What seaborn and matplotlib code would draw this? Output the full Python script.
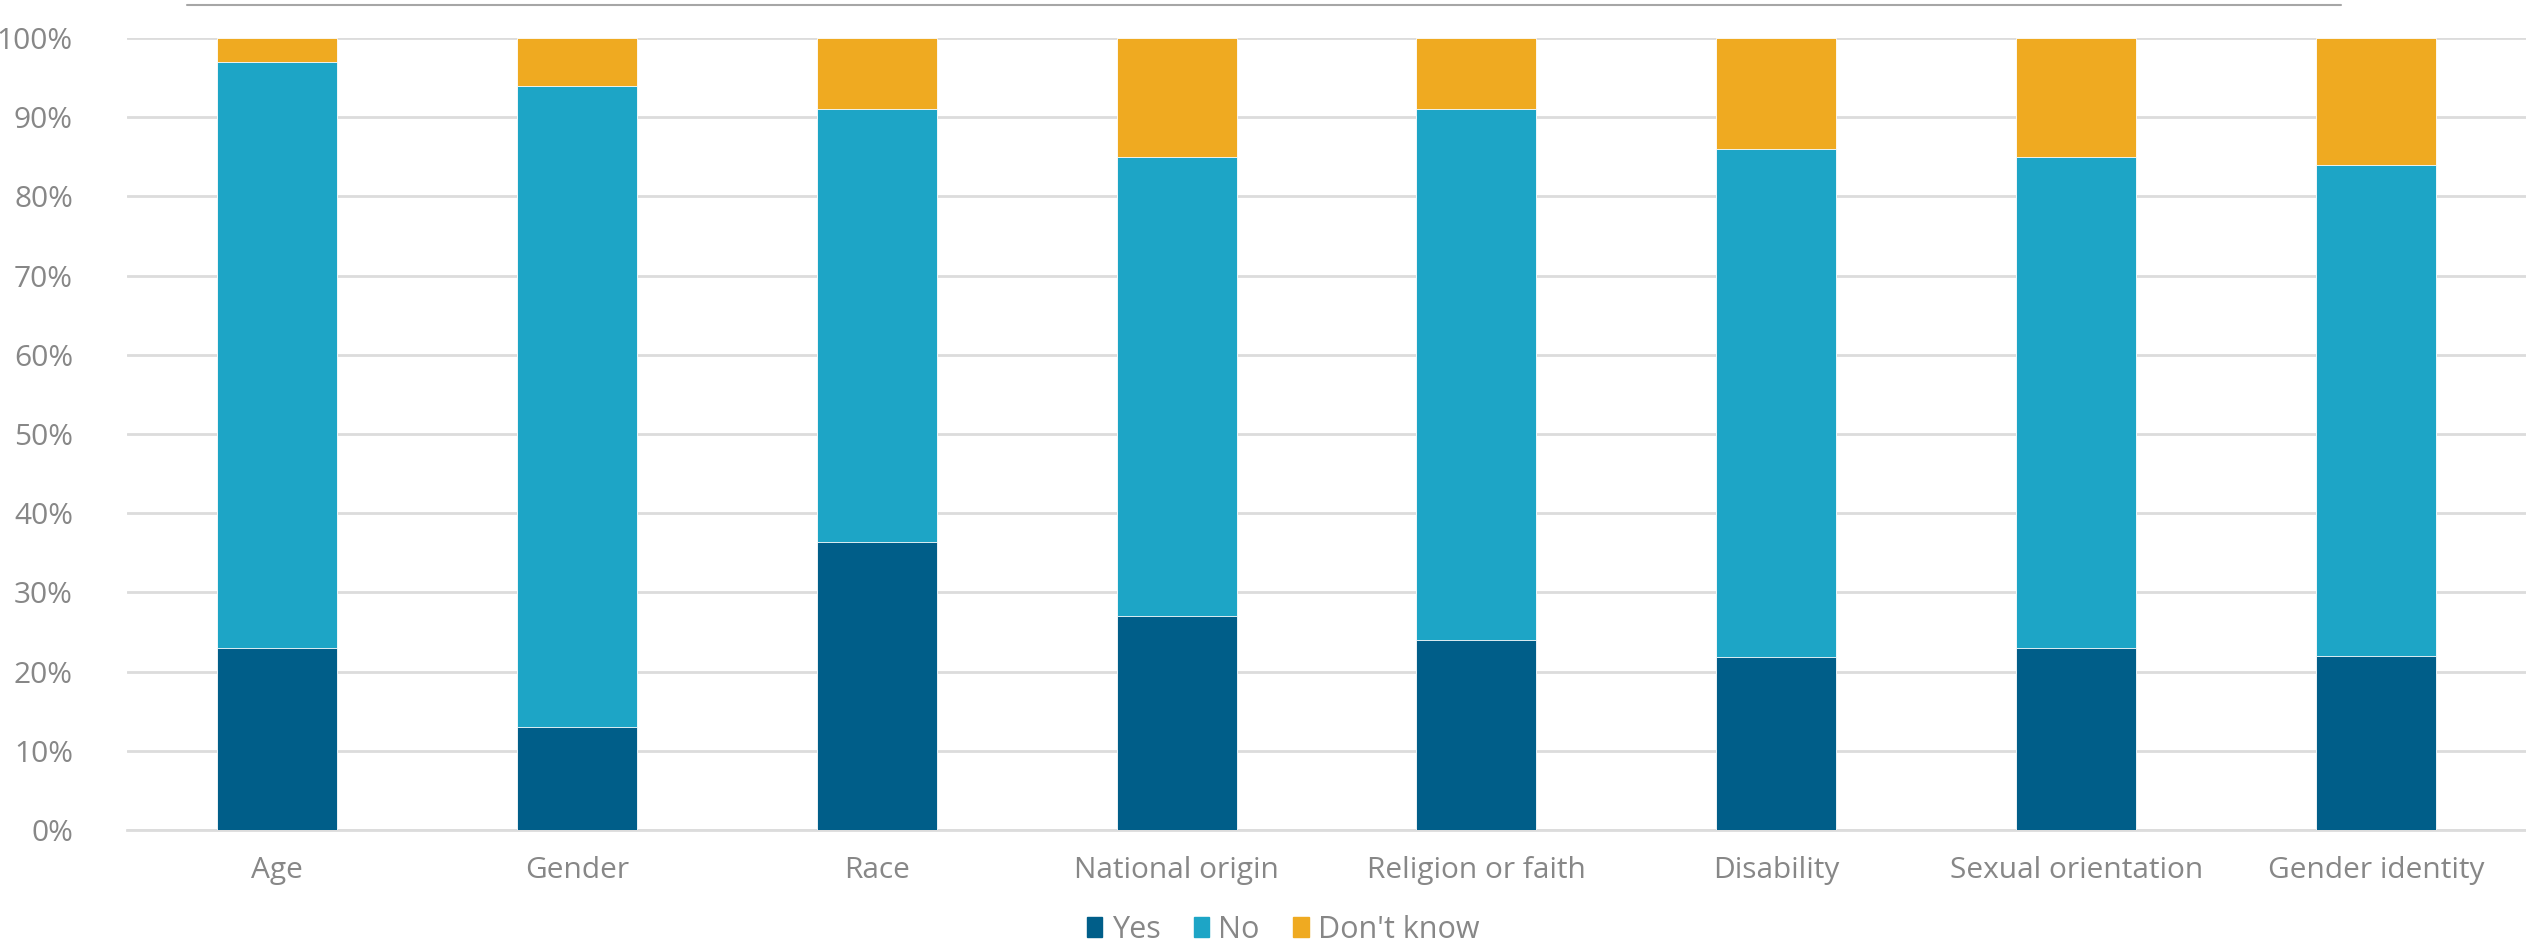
import numpy as np
import pandas as pd
import matplotlib
matplotlib.use("Agg")
import matplotlib.pyplot as plt
import matplotlib.patches as mpatches
from matplotlib.lines import Line2D
from matplotlib.ticker import PercentFormatter, MultipleLocator
import seaborn as sns

# ── data (percent of respondents) ─────────────────────────────────────────────
categories = ["Age", "Gender", "Race", "National origin", "Religion or faith",
              "Disability", "Sexual orientation", "Gender identity"]
yes = [23, 13, 36.4, 27, 24, 21.8, 23, 22]
no = [74, 81, 54.6, 58, 67, 64.2, 62, 62]
dont_know = [3, 6, 9, 15, 9, 14, 15, 16]

series_names = ["Yes", "No", "Don't know"]
COLORS = {"Yes": "#005E89", "No": "#1DA5C6", "Don't know": "#EFAA21"}
TEXT = "#878787"
GRID = "#DCDCDC"

df = pd.DataFrame({"category": categories, "Yes": yes, "No": no, "Don't know": dont_know})
df["cum_yes"] = df["Yes"] / 100
df["cum_no"] = (df["Yes"] + df["No"]) / 100
df["cum_dk"] = (df["Yes"] + df["No"] + df["Don't know"]) / 100

sns.set_theme(style="white")
plt.rcParams["font.family"] = ["Open Sans", "DejaVu Sans"]

fig = plt.figure(figsize=(25.26, 9.43), dpi=100)
ax = fig.add_axes([0.0503, 0.1198, 0.9497, 0.8399])

# stacked bars drawn back to front from cumulative totals
for col, name in [("cum_dk", "Don't know"), ("cum_no", "No"), ("cum_yes", "Yes")]:
    sns.barplot(data=df, x="category", y=col, color=COLORS[name], width=0.4,
                saturation=1, ax=ax, edgecolor="white", linewidth=0.6, zorder=3)

ax.set_xlim(-0.5, len(categories) - 0.5)
ax.set_ylim(0, 1)
ax.yaxis.set_major_locator(MultipleLocator(0.1))
ax.yaxis.set_major_formatter(PercentFormatter(1.0, decimals=0))
ax.grid(axis="y", color=GRID, linewidth=2, zorder=0)
ax.set_axisbelow(True)
for s in ["left", "right", "top"]:
    ax.spines[s].set_visible(False)
ax.spines["bottom"].set_color(GRID)
ax.spines["bottom"].set_linewidth(2)
ax.set_xlabel("")
ax.set_ylabel("")
ax.tick_params(axis="y", length=0, pad=39, labelsize=21.5, labelcolor=TEXT)
ax.tick_params(axis="x", length=0, pad=19, labelsize=21.5, labelcolor=TEXT)

handles = [mpatches.Patch(color=COLORS[n], label=n) for n in series_names]
fig.legend(handles=handles, loc="center", bbox_to_anchor=(0.508, 0.014), ncol=3,
           frameon=False, fontsize=22, handlelength=0.5, handleheight=0.6,
           handletextpad=0.3, columnspacing=1.1, labelcolor=TEXT)

# thin rule across the top
fig.add_artist(Line2D([187 / 2526, 2341 / 2526], [1 - 5 / 943, 1 - 5 / 943],
                      color="#A6A6A6", linewidth=1.5, transform=fig.transFigure))

fig.savefig("out.png", dpi=100)
